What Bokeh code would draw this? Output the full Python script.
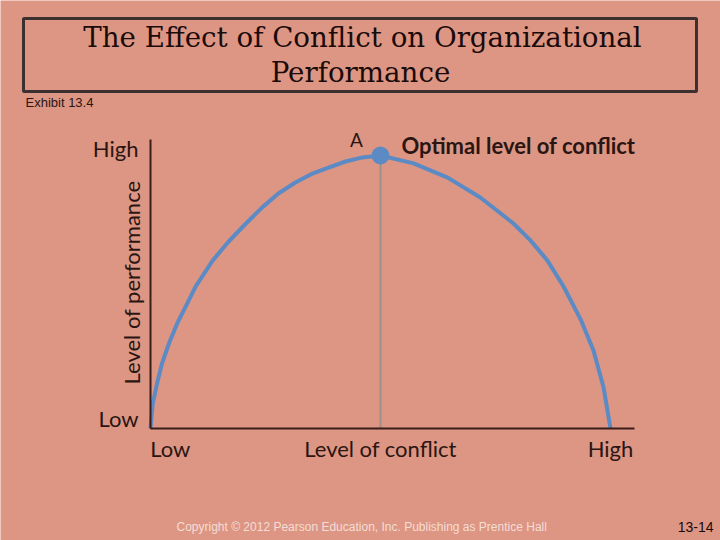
from bokeh.plotting import figure
from bokeh.models import FixedTicker, Range1d
from bokeh.core.properties import value
from bokeh.embed import file_html
from bokeh.resources import INLINE

# ---- data (level of conflict vs level of performance, 0-100 scale)
conflict = [0, 0.5, 1.5, 2.5, 4.0, 5.8, 8.0, 9.8, 13.5, 17.0, 20.7, 24.3, 27.8, 31.5, 35.2,
            38.7, 42.4, 46.1, 50.0, 57.2, 64.6, 71.7, 78.9, 82.6, 86.3, 89.8, 93.5, 96.3,
            98.5, 100]
performance = [0, 9.2, 17.0, 23.8, 31.1, 38.5, 45.8, 52.0, 61.5, 68.5, 75.0, 81.0, 86.1, 90.1,
               93.4, 95.6, 97.8, 99.3, 100, 97.1, 91.9, 84.6, 75.1, 68.9, 61.5, 52.0, 40.0,
               28.6, 15.0, 0]
optimal_x = [50]
optimal_y = [100]
x_axis_bounds = (0, 105.2)
y_axis_bounds = (0, 105.9)
x_tick_values = [4.3, 50, 100]
x_tick_labels = ["Low", "Level of conflict", "High"]
y_tick_values = [3.7, 102.6]
y_tick_labels = ["Low", "High"]
y_axis_title = "Level of performance"
point_label = "A"
point_caption = "Optimal level of conflict"

title_lines = ["The Effect of Conflict on Organizational", "Performance"]
exhibit = "Exhibit 13.4"
copyright_text = "Copyright  © 2012 Pearson Education, Inc. Publishing as Prentice Hall"
page_number = "13-14"

BG = "#DD9683"
TXT = "#2A1512"
AX = "#3A1C18"
CURVE = "#5B8AC5"
W, H = 720, 540

# page layout: data (0,0) sits at pixel (150, 428); 4.6 px per conflict unit, 2.73 px per performance unit
OX, OY, KX, KY = 150, 428, 4.6, 2.73


def X(px):
    return (px - OX) / KX


def Y(py):
    return (OY - py) / KY


p = figure(width=W, height=H, x_range=Range1d(X(0), X(W)), y_range=Range1d(Y(H), Y(0)),
           output_backend="svg", toolbar_location=None,
           min_border=0, min_border_left=0, min_border_right=0,
           min_border_top=0, min_border_bottom=0)
p.background_fill_color = BG
p.border_fill_color = BG
p.outline_line_color = None
p.grid.visible = False

for ax, ticks, labels, bounds in ((p.xaxis[0], x_tick_values, x_tick_labels, x_axis_bounds),
                                  (p.yaxis[0], y_tick_values, y_tick_labels, y_axis_bounds)):
    ax.fixed_location = 0
    ax.bounds = bounds
    ax.ticker = FixedTicker(ticks=ticks)
    ax.major_label_overrides = dict(zip(ticks, labels))
    ax.major_tick_line_color = None
    ax.minor_tick_line_color = None
    ax.axis_line_color = AX
    ax.axis_line_width = 2
    ax.major_label_text_font = "Lato"
    ax.major_label_text_font_size = "22px"
    ax.major_label_text_color = TXT
p.xaxis[0].major_label_standoff = 0
p.yaxis[0].major_label_standoff = 6

# vertical guide at optimum
p.segment(x0=optimal_x, y0=[0], x1=optimal_x, y1=optimal_y, line_color="#9C908C", line_width=2)
# curve
p.line(conflict, performance, line_color=CURVE, line_width=4, line_join="round")
p.scatter(optimal_x, optimal_y, size=18, fill_color=CURVE, line_color=None)

p.text(x=[X(356)], y=[Y(139)], text=[point_label], text_font=value("Lato"),
       text_font_size=value("19px"), text_color=TXT, text_align="center", text_baseline="middle")
p.text(x=[X(401)], y=[Y(145)], text=[point_caption],
       text_font=value("Lato"), text_font_size=value("22px"), text_font_style="bold",
       text_color=TXT, text_align="left", text_baseline="middle")
p.text(x=[X(131)], y=[Y(282)], text=[y_axis_title], angle=90, angle_units="deg",
       text_font=value("Lato"), text_font_size=value("22px"),
       text_color=TXT, text_align="center", text_baseline="middle")

# title box and slide texts
p.quad(left=[X(23)], right=[X(696)], top=[Y(18)], bottom=[Y(91)], fill_color=None,
       line_color="#3C3030", line_width=3)
p.text(x=[X(362), X(360)], y=[Y(37), Y(72)], text=title_lines, text_font=value("DejaVu Serif"),
       text_font_size=value("27.7px"), text_color="#1A0A0A",
       text_align="center", text_baseline="middle")
p.text(x=[X(25)], y=[Y(102)], text=[exhibit], text_font=value("Liberation Sans"),
       text_font_size=value("13px"), text_color=TXT,
       text_align="left", text_baseline="middle")
p.text(x=[X(176)], y=[Y(526)], text=[copyright_text], text_font=value("Liberation Sans"),
       text_font_size=value("12px"), text_color="#F4DDD6",
       text_align="left", text_baseline="middle")
p.text(x=[X(713)], y=[Y(526)], text=[page_number], text_font=value("Liberation Sans"),
       text_font_size=value("14px"), text_color="#1A0A0A",
       text_align="right", text_baseline="middle")

open("out.html", "w").write(file_html(p, INLINE))
